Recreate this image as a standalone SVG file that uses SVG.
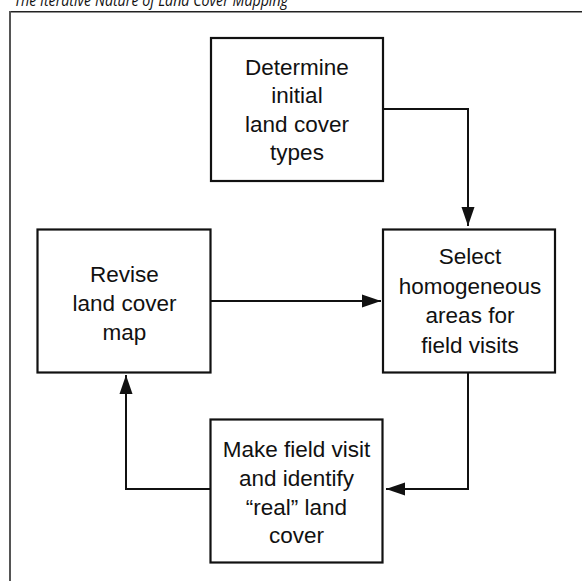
<svg xmlns="http://www.w3.org/2000/svg" width="582" height="581" viewBox="0 0 582 581">
<style>
.box{fill:#fff;stroke:#111;stroke-width:2.2}
.lbl{font-family:"Liberation Sans",Arial,sans-serif;font-size:22.5px;fill:#111;text-anchor:middle}
.conn{fill:none;stroke:#111;stroke-width:2}
.title{font-family:"Open Sans","Noto Sans",sans-serif;font-style:italic;font-size:17px;fill:#111}
</style>
<defs>
<marker id="ah" markerWidth="20" markerHeight="14" refX="19" refY="7" orient="auto" markerUnits="userSpaceOnUse">
<path d="M0,0.5 L19,7 L0,13.5 Z" fill="#111"/>
</marker>
</defs>
<rect width="582" height="581" fill="#fff"/>
<text class="title" x="14" y="5.5" textLength="274" lengthAdjust="spacingAndGlyphs">The Iterative Nature of Land Cover Mapping</text>
<g id="frame">
<line x1="10" y1="11.75" x2="582" y2="11.75" stroke="#222" stroke-width="1.5"/>
<line x1="10" y1="11" x2="10" y2="581" stroke="#555" stroke-width="2"/>
</g>
<g id="connectors">
<path class="conn" d="M383,109 H468 V226" marker-end="url(#ah)"/>
<path class="conn" d="M211,301 H381" marker-end="url(#ah)"/>
<path class="conn" d="M468,372 V489 H386" marker-end="url(#ah)"/>
<path class="conn" d="M210,489 H126 V375" marker-end="url(#ah)"/>
</g>
<g id="determine">
<rect class="box" x="211" y="38" width="172" height="143"/>
<text class="lbl" x="297" y="74.5">Determine</text>
<text class="lbl" x="297" y="103">initial</text>
<text class="lbl" x="297" y="131.5">land cover</text>
<text class="lbl" x="297" y="160">types</text>
</g>
<g id="select">
<rect class="box" x="383" y="229.5" width="172" height="143"/>
<text class="lbl" x="470" y="264.3">Select</text>
<text class="lbl" x="470" y="293.5">homogeneous</text>
<text class="lbl" x="470" y="323">areas for</text>
<text class="lbl" x="470" y="352.5">field visits</text>
</g>
<g id="revise">
<rect class="box" x="37.5" y="229.5" width="173" height="143"/>
<text class="lbl" x="124.5" y="282.3">Revise</text>
<text class="lbl" x="124.5" y="311">land cover</text>
<text class="lbl" x="124.5" y="340">map</text>
</g>
<g id="make">
<rect class="box" x="210.5" y="419.5" width="172" height="143"/>
<text class="lbl" x="296.5" y="456.7">Make field visit</text>
<text class="lbl" x="296.5" y="485.7">and identify</text>
<text class="lbl" x="296.5" y="515">“real” land</text>
<text class="lbl" x="296.5" y="543.3">cover</text>
</g>
</svg>
